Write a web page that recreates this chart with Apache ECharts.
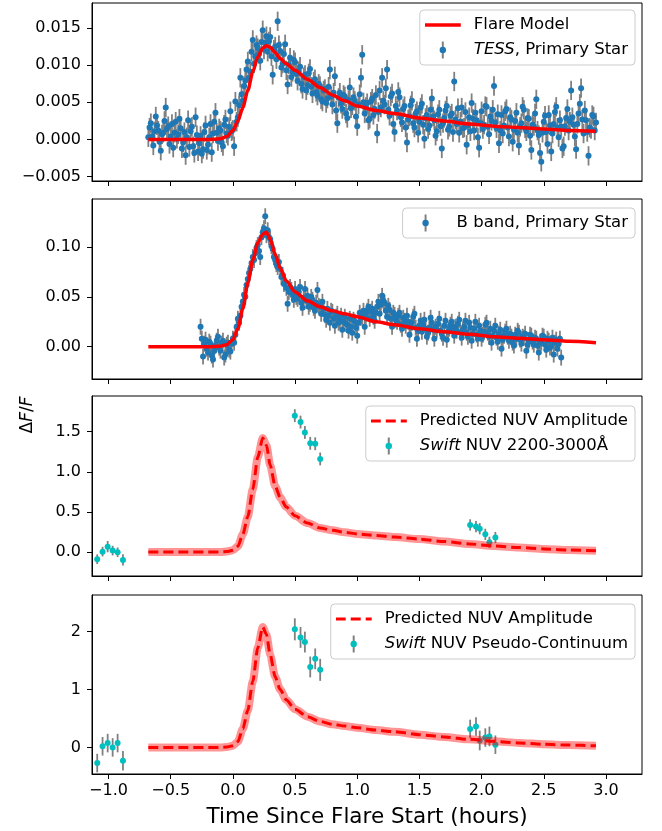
<!DOCTYPE html>
<html>
<head>
<meta charset="utf-8">
<script src="https://cdn.jsdelivr.net/npm/echarts@6/dist/echarts.min.js"></script>
<style>
  html, body { margin: 0; padding: 0; background: #fff; }
  #main { width: 662px; height: 831px; }
</style>
</head>
<body>
<div id="main"></div>
<script>
// model curves, sampled on one time grid (hours)
var modelTime = [-0.68, -0.4, -0.2, -0.1, -0.05, 0, 0.04, 0.08, 0.12, 0.16, 0.2, 0.24, 0.27, 0.3, 0.34, 0.38, 0.43, 0.5, 0.6, 0.7, 0.8, 0.9, 1.0, 1.15, 1.3, 1.5, 1.7, 1.9, 2.1, 2.3, 2.5, 2.7, 2.92];
var tessModel = [0, 0, 0, 0.0001, 0.0004, 0.0012, 0.0025, 0.0043, 0.0066, 0.0091, 0.0111, 0.0123, 0.0126, 0.0124, 0.0117, 0.0109, 0.0102, 0.0093, 0.0081, 0.0070, 0.0060, 0.0052, 0.0045, 0.0039, 0.0035, 0.0029, 0.0025, 0.0021, 0.0018, 0.0016, 0.0014, 0.0012, 0.0011];
var bandModel = [0, 0, 0, 0.0005, 0.002, 0.007, 0.018, 0.038, 0.064, 0.087, 0.104, 0.113, 0.115, 0.108, 0.093, 0.079, 0.066, 0.055, 0.046, 0.040, 0.036, 0.033, 0.030, 0.025, 0.022, 0.018, 0.015, 0.0125, 0.010, 0.0085, 0.007, 0.0055, 0.004];
var nuvModel = [0, 0, 0, 0, 0.005, 0.02, 0.07, 0.22, 0.44, 0.78, 1.18, 1.42, 1.33, 1.08, 0.82, 0.68, 0.56, 0.45, 0.36, 0.30, 0.27, 0.245, 0.225, 0.205, 0.185, 0.16, 0.13, 0.10, 0.075, 0.055, 0.038, 0.025, 0.015];
var pcModel = [0, 0, 0, 0, 0.007, 0.03, 0.10, 0.32, 0.64, 1.14, 1.72, 2.08, 1.95, 1.6, 1.22, 1.0, 0.82, 0.66, 0.53, 0.45, 0.40, 0.37, 0.34, 0.30, 0.27, 0.22, 0.18, 0.14, 0.105, 0.078, 0.055, 0.04, 0.028];

// TESS light curve (regular cadence, hours)
var tessStart = -0.68, tessCadence = 0.01, tessErr = 0.0013;
var tessFlux = [
  0.0003, 0.0016, 0.0022, 0.0004, -0.0008, 0.0011, 0.0031, 0.0019, 0.0012, -0.0003,
  -0.0015, 0.0007, 0.0009, 0.0025, 0.0043, 0.0014, 0.0018, -0.0006, 0.0004, 0.0021,
  -0.0011, 0.0009, 0.0024, 0.0001, 0.0007, 0.0028, 0.0015, -0.0012, -0.0004, 0.0010,
  -0.0021, 0.0003, 0.0026, -0.0010, 0.0011, 0.0017, -0.0009, -0.0018, 0.0030, 0.0006,
  -0.0016, -0.0005, 0.0005, -0.0019, -0.0013, 0.0010, 0.0019, -0.0014, -0.0007, 0.0003,
  0.0021, -0.0017, 0.0008, 0.0024, 0.0036, 0.0009, -0.0002, 0.0015, 0.0012, -0.0004,
  -0.0009, 0.0020, 0.0027, 0.0008, 0.0005, 0.0017, 0.0038, 0.0011, 0.0013, -0.0009,
  0.0051, 0.0024, 0.0030, 0.0046, 0.0083, 0.0061, 0.0052, 0.0072, 0.0079, 0.0094,
  0.0105, 0.0083, 0.0091, 0.0118, 0.0134, 0.0102, 0.0112, 0.0127, 0.0123, 0.0115,
  0.0106, 0.0131, 0.0147, 0.0121, 0.0130, 0.0139, 0.0118, 0.0132, 0.0138, 0.0112,
  0.0087, 0.0121, 0.0125, 0.0108, 0.0159, 0.0127, 0.0119, 0.0097, 0.0102, 0.0115,
  0.0128, 0.0093, 0.0074, 0.0101, 0.0110, 0.0084, 0.0091, 0.0107, 0.0104, 0.0088,
  0.0079, 0.0092, 0.0098, 0.0075, 0.0068, 0.0084, 0.0087, 0.0066, 0.0073, 0.0089,
  0.0095, 0.0071, 0.0062, 0.0078, 0.0081, 0.0064, 0.0059, 0.0075, 0.0072, 0.0054,
  0.0051, 0.0066, 0.0068, 0.0049, 0.0055, 0.0071, 0.0094, 0.0058, 0.0047, 0.0063,
  0.0085, 0.0039, 0.0022, 0.0056, 0.0063, 0.0048, 0.0041, 0.0060, 0.0058, 0.0035,
  0.0029, 0.0053, 0.0070, 0.0042, 0.0046, 0.0057, 0.0052, 0.0031, 0.0018, 0.0047,
  0.0061, 0.0083, 0.0114, 0.0050, 0.0035, 0.0044, 0.0049, 0.0026, 0.0028, 0.0051,
  0.0055, 0.0033, 0.0041, 0.0060, 0.0008, 0.0037, 0.0066, 0.0043, 0.0083, 0.0052,
  0.0047, 0.0069, 0.0094, 0.0040, 0.0032, 0.0058, 0.0062, 0.0021, 0.0010, 0.0045,
  0.0039, 0.0064, 0.0057, 0.0030, 0.0023, 0.0041, 0.0045, 0.0016, -0.0004, 0.0027,
  0.0031, 0.0046, 0.0052, 0.0022, 0.0016, 0.0035, 0.0038, 0.0009, 0.0024, 0.0043,
  0.0048, 0.0020, 0.0001, 0.0029, 0.0033, 0.0014, 0.0019, 0.0040, 0.0055, 0.0031,
  0.0026, 0.0005, 0.0011, 0.0034, 0.0040, 0.0018, -0.0012, 0.0022, 0.0029, 0.0039,
  0.0045, 0.0013, 0.0017, 0.0032, 0.0035, 0.0010, 0.0078, 0.0027, 0.0021, 0.0042,
  0.0009, 0.0024, 0.0043, 0.0015, 0.0016, 0.0037, -0.0007, 0.0019, 0.0030, 0.0011,
  0.0049, 0.0028, 0.0012, 0.0036, 0.0026, 0.0003, -0.0011, 0.0022, 0.0038, 0.0014,
  0.0020, 0.0045, 0.0044, 0.0017, 0.0007, 0.0031, 0.0025, 0.0040, 0.0072, 0.0023,
  0.0015, 0.0034, -0.0005, 0.0012, 0.0033, 0.0008, 0.0019, 0.0038, 0.0041, 0.0016,
  0.0004, 0.0030, 0.0027, -0.0003, 0.0013, 0.0025, 0.0036, 0.0009, -0.0008, 0.0017,
  0.0022, 0.0044, 0.0040, 0.0015, 0.0011, 0.0029, 0.0028, 0.0005, -0.0014, 0.0020,
  0.0018, 0.0035, 0.0054, 0.0012, 0.0006, -0.0018, -0.0030, 0.0009, 0.0024, 0.0032,
  0.0010, -0.0006, 0.0033, 0.0019, -0.0016, 0.0008, 0.0021, 0.0037, 0.0044, 0.0016,
  0.0003, 0.0026, 0.0017, -0.0012, -0.0009, 0.0018, 0.0029, 0.0041, 0.0012, 0.0024,
  0.0066, 0.0030, 0.0020, 0.0004, -0.0013, 0.0021, 0.0035, 0.0048, 0.0069, 0.0027,
  0.0008, 0.0039, 0.0026, 0.0010, -0.0022, 0.0016, 0.0014, 0.0033, 0.0031, 0.0012,
  0.0023
];

// B band light curve (regular cadence, hours)
var bandStart = -0.26, bandCadence = 0.01, bandErr = 0.008;
var bandFlux = [
  0.020, 0.008, -0.010, 0.003, 0.007, -0.002, -0.006, 0.005, 0.003, -0.009,
  -0.013, -0.004, 0.001, 0.006, 0.010, -0.001, -0.004, 0.003, 0.006, -0.011,
  -0.008, 0.002, 0.004, -0.003, -0.005, 0.003, 0.008, 0.004, 0.012, 0.020,
  0.028, 0.024, 0.031, 0.040, 0.045, 0.052, 0.050, 0.062, 0.068, 0.074,
  0.078, 0.084, 0.090, 0.087, 0.094, 0.099, 0.102, 0.096, 0.090, 0.110,
  0.115, 0.119, 0.131, 0.112, 0.117, 0.110, 0.108, 0.101, 0.098, 0.090,
  0.087, 0.083, 0.080, 0.085, 0.078, 0.070, 0.072, 0.063, 0.065, 0.059,
  0.043, 0.055, 0.060, 0.057, 0.052, 0.047, 0.058, 0.050, 0.048, 0.055,
  0.060, 0.044, 0.039, 0.049, 0.058, 0.046, 0.051, 0.040, 0.043, 0.050,
  0.047, 0.039, 0.036, 0.044, 0.057, 0.041, 0.040, 0.033, 0.045, 0.038,
  0.032, 0.027, 0.038, 0.031, 0.024, 0.036, 0.035, 0.028, 0.021, 0.030,
  0.033, 0.024, 0.026, 0.031, 0.017, 0.025, 0.030, 0.023, 0.022, 0.016,
  0.028, 0.020, 0.014, 0.027, 0.025, 0.019, 0.011, 0.024, 0.034, 0.029,
  0.030, 0.036, 0.020, 0.031, 0.036, 0.040, 0.028, 0.035, 0.038, 0.030,
  0.026, 0.034, 0.040, 0.045, 0.033, 0.042, 0.051, 0.046, 0.044, 0.036,
  0.030, 0.041, 0.037, 0.028, 0.020, 0.034, 0.032, 0.027, 0.025, 0.031,
  0.034, 0.022, 0.018, 0.029, 0.026, 0.021, 0.031, 0.025, 0.012, 0.020,
  0.024, 0.030, 0.033, 0.019, 0.008, 0.016, 0.021, 0.026, 0.015, 0.022,
  0.027, 0.018, 0.010, 0.014, 0.019, 0.029, 0.024, 0.017, 0.008, 0.020,
  0.017, 0.023, 0.028, 0.016, 0.013, 0.009, 0.021, 0.026, 0.007, 0.015,
  0.018, 0.022, 0.025, 0.018, 0.011, 0.020, 0.016, 0.023, 0.027, 0.014,
  0.009, 0.017, 0.020, 0.026, 0.014, 0.010, 0.024, 0.019, 0.006, 0.013,
  0.018, 0.025, 0.012, 0.008, 0.021, 0.016, 0.008, 0.012, 0.015, 0.022,
  0.024, 0.014, 0.010, 0.018, 0.004, 0.011, 0.016, 0.021, 0.009, 0.005,
  0.013, 0.017, -0.002, 0.007, 0.011, 0.015, 0.018, 0.010, 0.006, 0.013,
  0.010, 0.004, 0.001, 0.012, 0.008, 0.016, 0.014, 0.007, 0.003, 0.010,
  0.009, 0.013, -0.004, 0.002, 0.006, 0.012, 0.011, 0.005, 0.002, 0.009,
  0.008, 0.001, -0.006, 0.005, 0.004, 0.011, 0.010, 0.002, -0.003, 0.008,
  0.006, -0.001, 0.001, 0.009, -0.008, 0.004, 0.007, -0.002, 0.003, 0.008,
  -0.011
];

// Swift points
var swiftTime = [-1.091, -1.048, -1.007, -0.967, -0.927, -0.884, 0.498, 0.544, 0.579, 0.622, 0.662, 0.702, 1.908, 1.955, 1.985, 2.03, 2.063, 2.111];
var nuvFlux = [-0.09, 0.004, 0.066, 0.017, -0.004, -0.10, 1.70, 1.62, 1.49, 1.355, 1.35, 1.16, 0.337, 0.316, 0.29, 0.22, 0.12, 0.18];
var nuvErr = [0.06, 0.06, 0.07, 0.06, 0.06, 0.07, 0.08, 0.08, 0.08, 0.08, 0.08, 0.08, 0.07, 0.07, 0.07, 0.07, 0.07, 0.07];
var pcFlux = [-0.27, 0.02, 0.075, 0.0, 0.075, -0.23, 2.04, 1.90, 1.82, 1.39, 1.53, 1.34, 0.32, 0.36, 0.12, 0.17, 0.19, 0.047];
var pcErr = [0.16, 0.16, 0.16, 0.16, 0.16, 0.17, 0.19, 0.18, 0.18, 0.18, 0.18, 0.19, 0.16, 0.16, 0.17, 0.16, 0.17, 0.16];

// ticks
var xTicks = [-1, -0.5, 0, 0.5, 1, 1.5, 2, 2.5, 3];
var tessTicks = [-0.005, 0, 0.005, 0.01, 0.015];
var bandTicks = [0, 0.05, 0.1];
var nuvTicks = [0, 0.5, 1, 1.5];
var pcTicks = [0, 1, 2];

var FONT = "DejaVu Sans";
var BLUE = "#1f77b4";
var CYAN = "#00bfbf";

function pairs(xs, ys) { return xs.map(function (x, i) { return [x, ys[i]]; }); }
function cadenceTimes(start, step, n) {
  var t = [];
  for (var i = 0; i < n; i++) t.push(+(start + i * step).toFixed(4));
  return t;
}
var tessTime = cadenceTimes(tessStart, tessCadence, tessFlux.length);
var bandTime = cadenceTimes(bandStart, bandCadence, bandFlux.length);

function minus(s) { return String(s).replace("-", "\u2212"); }

function svgIcon(inner) {
  var svg = '<svg xmlns="http://www.w3.org/2000/svg" width="44" height="18" viewBox="0 0 44 18">' + inner + '</svg>';
  return "image://data:image/svg+xml;charset=utf-8," + encodeURIComponent(svg);
}
var iconLine = svgIcon('<line x1="0" y1="9" x2="36" y2="9" stroke="#ff0000" stroke-width="3.5"/>');
var iconDash = svgIcon('<line x1="0" y1="9" x2="36" y2="9" stroke="#ff0000" stroke-width="3" stroke-dasharray="10 5"/>');
var iconBlue = svgIcon('<line x1="18" y1="0.5" x2="18" y2="17.5" stroke="#808080" stroke-width="2"/><circle cx="18" cy="9" r="3.2" fill="' + BLUE + '"/>');
var iconCyan = svgIcon('<line x1="18" y1="0.5" x2="18" y2="17.5" stroke="#808080" stroke-width="2"/><circle cx="18" cy="9" r="3.2" fill="' + CYAN + '"/>');

var grids = [
  { left: 92, width: 550, top: 3, height: 178 },
  { left: 92, width: 550, top: 199, height: 180 },
  { left: 92, width: 550, top: 396, height: 180 },
  { left: 92, width: 550, top: 595, height: 179 }
];

function xAxisFor(i) {
  return {
    type: "value", gridIndex: i, min: -1.133, max: 3.29,
    axisLine: { show: true, onZero: false, lineStyle: { color: "#000", width: 1 } },
    axisTick: { show: true, length: 5, lineStyle: { color: "#000", width: 1 }, customValues: xTicks },
    axisLabel: {
      show: i === 3, margin: 9, color: "#000", fontFamily: FONT, fontSize: 16,
      customValues: xTicks, formatter: function (v) { return minus(v.toFixed(1)); }
    },
    splitLine: { show: false },
    name: i === 3 ? "Time Since Flare Start (hours)" : "",
    nameLocation: "middle", nameGap: 32,
    nameTextStyle: { fontFamily: FONT, fontSize: 21.5, color: "#000", verticalAlign: "top" }
  };
}
function yAxisFor(i, min, max, ticks, digits) {
  return {
    type: "value", gridIndex: i, min: min, max: max,
    axisLine: { show: true, onZero: false, lineStyle: { color: "#000", width: 1 } },
    axisTick: { show: true, length: 5, lineStyle: { color: "#000", width: 1 }, customValues: ticks },
    axisLabel: {
      margin: 11, color: "#000", fontFamily: FONT, fontSize: 16, customValues: ticks,
      formatter: function (v) { return minus(v.toFixed(digits)); }
    },
    splitLine: { show: false }
  };
}

function errBars(name, idx, xs, ys, errs) {
  var data = xs.map(function (x, i) { return [x, ys[i], Array.isArray(errs) ? errs[i] : errs]; });
  return {
    name: name, type: "custom", xAxisIndex: idx, yAxisIndex: idx, data: data,
    encode: { x: 0, y: 1 },
    renderItem: function (params, api) {
      var x = api.value(0), y = api.value(1), e = api.value(2);
      var p1 = api.coord([x, y - e]), p2 = api.coord([x, y + e]);
      return { type: "line", shape: { x1: p1[0], y1: p1[1], x2: p2[0], y2: p2[1] },
               style: { stroke: "#808080", lineWidth: 1.8 } };
    }
  };
}
function dots(name, idx, xs, ys, color) {
  return { name: name, type: "scatter", xAxisIndex: idx, yAxisIndex: idx, data: pairs(xs, ys),
           symbolSize: 6, itemStyle: { color: color, opacity: 1 } };
}
function modelLine(name, idx, ys, dashed) {
  return { name: name, type: "line", xAxisIndex: idx, yAxisIndex: idx, data: pairs(modelTime, ys),
           showSymbol: false, smooth: 0.25, smoothMonotone: "x",
           lineStyle: { color: "#ff0000", width: dashed ? 3 : 3.5, type: dashed ? [10, 5] : "solid" } };
}
function bandLine(idx, ys) {
  return { name: "band" + idx, type: "line", xAxisIndex: idx, yAxisIndex: idx, data: pairs(modelTime, ys),
           showSymbol: false, smooth: 0.25, smoothMonotone: "x",
           lineStyle: { color: "rgba(255,0,0,0.42)", width: 8 } };
}

var richText = {
  i: { fontFamily: FONT, fontSize: 16.5, fontStyle: "italic", color: "#000" },
  n: { fontFamily: FONT, fontSize: 16.5, color: "#000" }
};
var italicWord = { "TESS, Primary Star": "TESS", "Swift NUV 2200-3000\u00c5": "Swift", "Swift NUV Pseudo-Continuum": "Swift" };
function legendFor(top, items) {
  return {
    orient: "vertical", right: 27, top: top, selectedMode: false,
    itemWidth: 44, itemHeight: 18, itemGap: 7, padding: [6, 7, 6, 5],
    backgroundColor: "rgba(255,255,255,0.8)", borderColor: "#cccccc", borderWidth: 1, borderRadius: 4,
    data: items,
    textStyle: { fontFamily: FONT, fontSize: 16.5, color: "#000", rich: richText },
    formatter: function (name) {
      var w = italicWord[name];
      if (w) return "{i|" + w + "}{n|" + name.slice(w.length) + "}";
      return "{n|" + name + "}";
    }
  };
}

var option = {
  animation: false,
  backgroundColor: "#fff",
  grid: grids.map(function (g) {
    return Object.assign({ show: true, borderColor: "#000", borderWidth: 1, backgroundColor: "transparent" }, g);
  }),
  xAxis: [xAxisFor(0), xAxisFor(1), xAxisFor(2), xAxisFor(3)],
  yAxis: [
    yAxisFor(0, -0.00558, 0.01836, tessTicks, 3),
    yAxisFor(1, -0.0325, 0.1483, bandTicks, 2),
    yAxisFor(2, -0.30, 1.945, nuvTicks, 1),
    yAxisFor(3, -0.459, 2.633, pcTicks, 0)
  ],
  legend: [
    legendFor(10, [{ name: "Flare Model", icon: iconLine }, { name: "TESS, Primary Star", icon: iconBlue }]),
    legendFor(208, [{ name: "B band, Primary Star", icon: iconBlue }]),
    legendFor(406, [{ name: "Predicted NUV Amplitude", icon: iconDash }, { name: "Swift NUV 2200-3000\u00c5", icon: iconCyan }]),
    legendFor(604, [{ name: "Predicted NUV Amplitude", icon: iconDash }, { name: "Swift NUV Pseudo-Continuum", icon: iconCyan }])
  ],
  graphic: [{
    type: "text", x: 28, y: 415, rotation: Math.PI / 2,
    style: {
      text: "{n|\u0394}{i|F}{n|/}{i|F}", align: "center", verticalAlign: "middle",
      rich: {
        i: { fontFamily: FONT, fontSize: 17, fontStyle: "italic", fill: "#000" },
        n: { fontFamily: FONT, fontSize: 17, fill: "#000" }
      }
    }
  }],
  series: [
    errBars("TESS, Primary Star", 0, tessTime, tessFlux, tessErr),
    dots("TESS, Primary Star", 0, tessTime, tessFlux, BLUE),
    modelLine("Flare Model", 0, tessModel, false),

    errBars("B band, Primary Star", 1, bandTime, bandFlux, bandErr),
    dots("B band, Primary Star", 1, bandTime, bandFlux, BLUE),
    modelLine("B model", 1, bandModel, false),

    bandLine(2, nuvModel),
    modelLine("Predicted NUV Amplitude", 2, nuvModel, true),
    errBars("Swift NUV 2200-3000\u00c5", 2, swiftTime, nuvFlux, nuvErr),
    dots("Swift NUV 2200-3000\u00c5", 2, swiftTime, nuvFlux, CYAN),

    bandLine(3, pcModel),
    modelLine("Predicted NUV Amplitude", 3, pcModel, true),
    errBars("Swift NUV Pseudo-Continuum", 3, swiftTime, pcFlux, pcErr),
    dots("Swift NUV Pseudo-Continuum", 3, swiftTime, pcFlux, CYAN)
  ]
};

var chart = echarts.init(document.getElementById("main"));
chart.setOption(option);
</script>
</body>
</html>
